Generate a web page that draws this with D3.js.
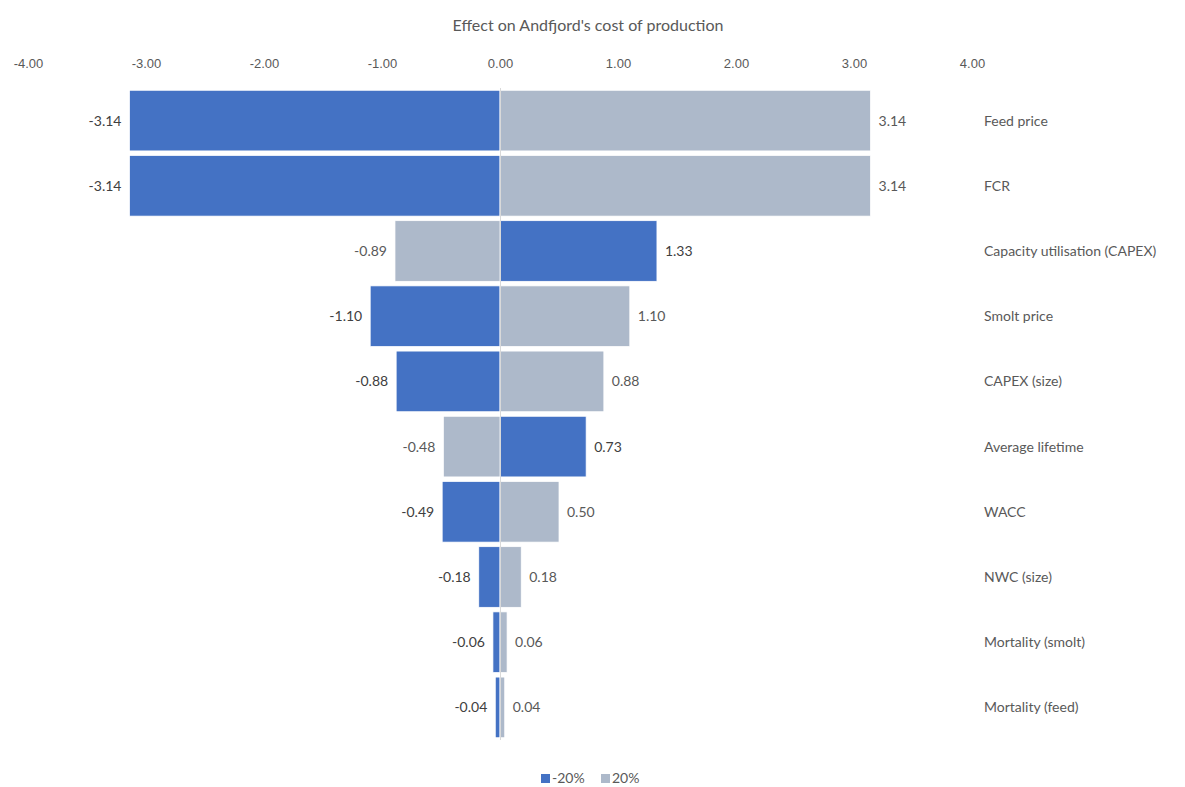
<!DOCTYPE html>
<html>
<meta charset="utf-8">
<style>

body {
  margin: 0;
  background: #fff;
  font-family: Lato, "Open Sans", sans-serif;
}

.tick text {
  fill: #595959;
  font-size: 13px;
}

.title {
  fill: #595959;
  font-size: 16px;
}

.cat {
  fill: #595959;
  font-size: 14px;
}

.zero {
  stroke: #d9d9d9;
  stroke-width: 1px;
  shape-rendering: crispEdges;
}

</style>
<body>
<script src="https://cdn.jsdelivr.net/npm/d3@7"></script>
<script>

var categories = ["Feed price", "FCR", "Capacity utilisation (CAPEX)", "Smolt price", "CAPEX (size)",
  "Average lifetime", "WACC", "NWC (size)", "Mortality (smolt)", "Mortality (feed)"];
var minus20 = [-3.14, -3.14, 1.33, -1.10, -0.88, 0.73, -0.49, -0.18, -0.06, -0.04];
var plus20 = [3.14, 3.14, -0.89, 1.10, 0.88, -0.48, 0.50, 0.18, 0.06, 0.04];
var tickValues = [-4, -3, -2, -1, 0, 1, 2, 3, 4];
var seriesNames = ["-20%", "20%"];

var colors = ["#4472c4", "#adb9ca"],
    labelColors = ["#404040", "#595959"];

var width = 1185,
    height = 787;

// plain hyphen for negatives, like the original
var fmt = d3.formatLocale({decimal: ".", thousands: ",", grouping: [3], currency: ["", ""], minus: "-"}).format(".2f");

var svg = d3.select("body").append("svg")
    .attr("width", width)
    .attr("height", height);

var x = d3.scaleLinear()
    .domain([-4, 4])
    .range([28, 972]);

var y = d3.scaleBand()
    .domain(categories)
    .range([88, 740])
    .paddingInner(0.07)
    .paddingOuter(0.035);

svg.append("text")
    .attr("class", "title")
    .attr("x", 588)
    .attr("y", 31)
    .attr("text-anchor", "middle")
    .text("Effect on Andfjord's cost of production");

var xAxis = d3.axisTop(x)
    .tickValues(tickValues)
    .tickSize(0)
    .tickPadding(0)
    .tickFormat(fmt);

svg.append("g")
    .attr("class", "x axis")
    .attr("transform", "translate(0,68)")
    .call(xAxis)
    .call(function(g) { g.select(".domain").remove(); });

var series = [minus20, plus20];

series.forEach(function(values, s) {
  var rows = categories.map(function(c, i) { return {cat: c, v: values[i]}; });

  svg.append("g").selectAll("rect")
      .data(rows)
    .enter().append("rect")
      .attr("x", function(d) { return x(Math.min(0, d.v)); })
      .attr("y", function(d) { return y(d.cat); })
      .attr("width", function(d) { return Math.abs(x(d.v) - x(0)); })
      .attr("height", y.bandwidth())
      .attr("fill", colors[s])
      .attr("stroke", "#fff")
      .attr("stroke-width", 0.75);

  svg.append("g").selectAll("text")
      .data(rows)
    .enter().append("text")
      .attr("x", function(d) { return d.v < 0 ? x(d.v) - 8 : x(d.v) + 8; })
      .attr("y", function(d) { return y(d.cat) + y.bandwidth() / 2; })
      .attr("dy", "0.35em")
      .attr("text-anchor", function(d) { return d.v < 0 ? "end" : "start"; })
      .attr("fill", labelColors[s])
      .style("font-size", "14px")
      .text(function(d) { return fmt(d.v); });
});

svg.append("line")
    .attr("class", "zero")
    .attr("x1", x(0) + 0.5)
    .attr("x2", x(0) + 0.5)
    .attr("y1", 88)
    .attr("y2", 740);

svg.append("g").selectAll("text")
    .data(categories)
  .enter().append("text")
    .attr("class", "cat")
    .attr("x", 984)
    .attr("y", function(d) { return y(d) + y.bandwidth() / 2; })
    .attr("dy", "0.35em")
    .text(function(d) { return d; });

// legend
var legend = svg.append("g")
    .attr("transform", "translate(541,783)");

var offsets = [0, 60];
seriesNames.forEach(function(name, i) {
  legend.append("rect")
      .attr("x", offsets[i])
      .attr("y", -9)
      .attr("width", 9)
      .attr("height", 9)
      .attr("fill", colors[i]);
  legend.append("text")
      .attr("x", offsets[i] + 11)
      .attr("y", 0)
      .attr("fill", "#595959")
      .style("font-size", "14px")
      .text(name);
});

</script>
</body>
</html>
